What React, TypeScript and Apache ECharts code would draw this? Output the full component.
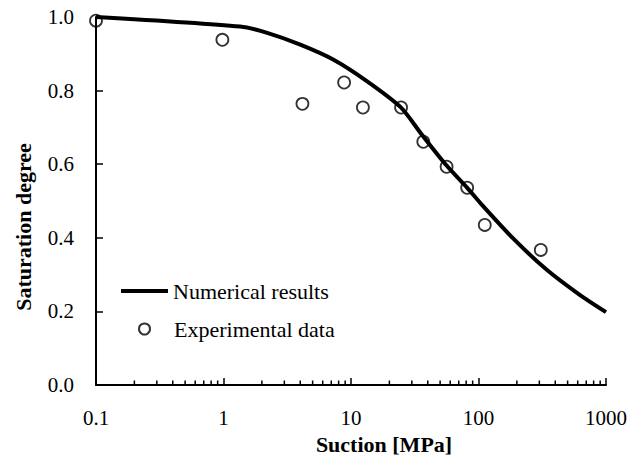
import React, { useEffect, useRef } from "react";
import * as echarts from "echarts";

const curveSuction = [0.1, 1.35, 2.2, 4.0, 7.3, 13.3, 24.5, 36, 56, 81, 103, 186, 343, 622, 1000];
const curveSaturation = [1.0, 0.974, 0.957, 0.925, 0.884, 0.826, 0.755, 0.68, 0.597, 0.537, 0.495, 0.399, 0.313, 0.245, 0.198];

const expSuction = [0.1, 0.98, 4.16, 8.83, 12.4, 24.7, 36.9, 56.2, 81.5, 112, 308];
const expSaturation = [0.99, 0.938, 0.764, 0.822, 0.754, 0.754, 0.661, 0.593, 0.536, 0.435, 0.367];

const xTickLabels = ["0.1", "1", "10", "100", "1000"];
const decades = [0.1, 1, 10, 100];
const minorMultipliers = [2, 3, 4, 5, 6, 7, 8, 9];

const FONT = "Liberation Serif";

export default function App() {
  const ref = useRef<HTMLDivElement>(null);

  useEffect(() => {
    document.body.style.margin = "0";
    const chart = echarts.init(ref.current!, null, { renderer: "svg" });

    const minorTicks: number[][] = [];
    decades.forEach((d) => minorMultipliers.forEach((m) => minorTicks.push([+(d * m).toPrecision(3), 0])));

    const option: any = {
      animation: false,
      textStyle: { fontFamily: FONT, color: "#000" },
      grid: { left: 96, right: 24, top: 17, bottom: 74 },
      xAxis: {
        type: "log",
        logBase: 10,
        min: 0.1,
        max: 1000,
        axisLine: { lineStyle: { color: "#000", width: 2 } },
        axisTick: { inside: true, length: 7, lineStyle: { color: "#000", width: 1.5 } },
        splitLine: { show: false },
        axisLabel: {
          fontFamily: FONT,
          fontSize: 21,
          color: "#000",
          margin: 22,
          formatter: (v: number) => {
            const s = String(+v.toPrecision(3));
            return xTickLabels.includes(s) ? s : "";
          },
        },
      },
      yAxis: {
        type: "value",
        min: 0,
        max: 1,
        interval: 0.2,
        axisLine: { show: true, lineStyle: { color: "#000", width: 2 } },
        axisTick: { show: true, inside: true, length: 7, lineStyle: { color: "#000", width: 1.5 } },
        splitLine: { show: false },
        axisLabel: {
          fontFamily: FONT,
          fontSize: 21,
          color: "#000",
          margin: 22,
          formatter: (v: number) => v.toFixed(1),
        },
      },
      legend: [
        {
          left: 121,
          top: 280,
          padding: 0,
          selectedMode: false,
          itemWidth: 47,
          itemHeight: 4,
          itemGap: 0,
          textStyle: { fontFamily: FONT, fontSize: 22, color: "#000" },
          data: [{ name: "Numerical results", icon: "rect" }],
        },
        {
          left: 138,
          top: 318,
          padding: 0,
          selectedMode: false,
          itemWidth: 11,
          itemHeight: 11,
          itemGap: 0,
          textStyle: { fontFamily: FONT, fontSize: 22, color: "#000", padding: [0, 0, 0, 19] },
          data: [{ name: "Experimental data", icon: "circle" }],
        },
      ],
      graphic: [
        {
          type: "text",
          x: 23,
          y: 227,
          rotation: Math.PI / 2,
          style: {
            text: "Saturation degree",
            fontFamily: FONT,
            fontWeight: "bold",
            fontSize: 22,
            fill: "#000",
            align: "center",
            verticalAlign: "middle",
          },
        },
        {
          type: "text",
          x: 384,
          y: 444,
          style: {
            text: "Suction [MPa]",
            fontFamily: FONT,
            fontWeight: "bold",
            fontSize: 22,
            fill: "#000",
            align: "center",
            verticalAlign: "middle",
          },
        },
      ],
      series: [
        {
          name: "minor ticks",
          type: "custom",
          silent: true,
          data: minorTicks,
          renderItem: (params: any, api: any) => {
            const p = api.coord([api.value(0), 0]);
            return {
              type: "line",
              shape: { x1: p[0], y1: p[1], x2: p[0], y2: p[1] - 4.5 },
              style: { stroke: "#000", lineWidth: 1.5 },
            };
          },
          z: 1,
        },
        {
          name: "Numerical results",
          type: "line",
          data: curveSuction.map((x, i) => [x, curveSaturation[i]]),
          showSymbol: false,
          symbol: "none",
          smooth: 0.25,
          lineStyle: { color: "#000", width: 4 },
          itemStyle: { color: "#000" },
          z: 2,
        },
        {
          name: "Experimental data",
          type: "scatter",
          data: expSuction.map((x, i) => [x, expSaturation[i]]),
          symbol: "circle",
          symbolSize: 12,
          itemStyle: { color: "rgba(255,255,255,0)", borderColor: "#000", borderWidth: 1.8 },
          z: 3,
        },
      ],
    };

    chart.setOption(option);
    return () => chart.dispose();
  }, []);

  return <div ref={ref} style={{ width: 630, height: 459 }} />;
}
